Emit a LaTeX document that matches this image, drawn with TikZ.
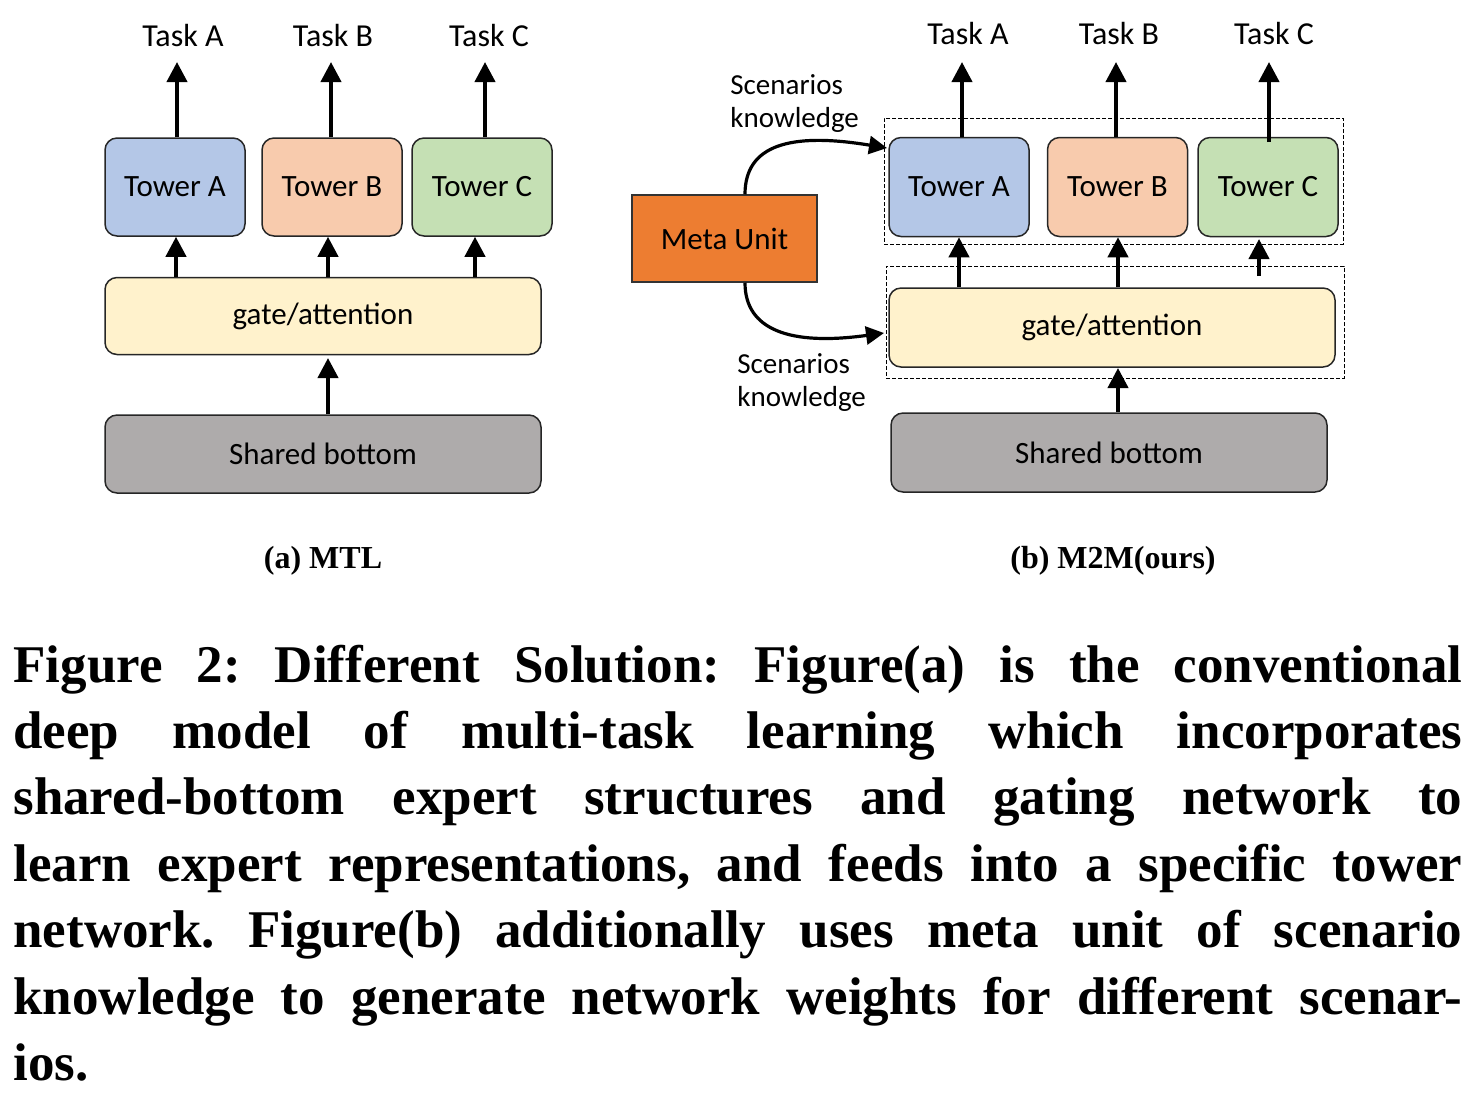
\documentclass[tikz,border=0pt]{standalone}
\usepackage{fontspec}
\setmainfont{Liberation Serif}
\newfontfamily\calfont{Carlito}
\usetikzlibrary{arrows.meta}
\definecolor{twa}{HTML}{B4C7E7}
\definecolor{twb}{HTML}{F8CBAD}
\definecolor{twc}{HTML}{C5E0B4}
\definecolor{gatec}{HTML}{FFF2CC}
\definecolor{shc}{HTML}{AEABAB}
\definecolor{metac}{HTML}{ED7D31}
\begin{document}
\begin{tikzpicture}[x=0.5pt,y=-0.5pt,
  box/.style={draw=black!85, line width=0.75pt, rounded corners=6pt, inner sep=0pt,
    font=\calfont\fontsize{15.5}{18}\selectfont},
  tower/.style={box, minimum width=70pt, minimum height=49pt},
  wide/.style={box, minimum width=218pt, minimum height=39pt},
  arr/.style={line width=2pt, -{Triangle[width=10pt,length=10pt]}},
  carr/.style={line width=1.6pt, -{Triangle[width=9pt,length=9pt]}},
  dbox/.style={draw, line width=0.5pt, dash pattern=on 2pt off 1pt, inner sep=0pt},
  lbl/.style={inner sep=0pt, font=\calfont\fontsize{16}{16.5}\selectfont},
  slbl/.style={inner sep=0pt, font=\calfont\fontsize{14.5}{16.7}\selectfont},
  sub/.style={inner sep=0pt, font=\bfseries\fontsize{16}{19}\selectfont}]
\useasboundingbox (0,0) rectangle (1482,1105);

% ---------- (a) MTL ----------
\node[tower, fill=twa] (TA) at (175,187) {Tower A};
\node[tower, fill=twb] (TB) at (332,187) {Tower B};
\node[tower, fill=twc] (TC) at (482,187) {Tower C};
\node[wide, fill=gatec, minimum height=38.5pt] (GL) at (323,316) {gate/attention};
\node[wide, fill=shc] (SL) at (323,454) {Shared bottom};
\node[lbl, anchor=base] (tkA) at (183,46) {Task A};
\node[lbl, anchor=base] (tkB) at (333,46) {Task B};
\node[lbl, anchor=base] (tkC) at (489,46) {Task C};
\draw[arr] (TA.north -| 177,0) -- (177,62);
\draw[arr] (TB.north -| 331,0) -- (331,62);
\draw[arr] (TC.north -| 485,0) -- (485,62);
\draw[arr] (GL.north -| 176,0) -- (TA.south -| 176,0);
\draw[arr] (GL.north -| 328,0) -- (TB.south -| 328,0);
\draw[arr] (GL.north -| 475,0) -- (TC.south -| 475,0);
\draw[arr] (SL.north -| 328,0) -- (328,358);
\node[sub, anchor=base] (capA) at (323,568) {(a) MTL};

% ---------- (b) M2M ----------
\node[dbox, minimum width=229.5pt, minimum height=63pt] (DB1) at (1113.5,181) {};
\node[dbox, minimum width=229pt, minimum height=56pt] (DB2) at (1115,322) {};
\node[tower, fill=twa, minimum height=49.5pt] (RA) at (959,187) {Tower A};
\node[tower, fill=twb, minimum height=49.5pt] (RB) at (1117.5,187) {Tower B};
\node[tower, fill=twc, minimum height=49.5pt] (RC) at (1268,187) {Tower C};
\node[box, fill=gatec, minimum width=223pt, minimum height=39.5pt] (GR) at (1112,327.5) {gate/attention};
\node[wide, fill=shc, minimum height=39.5pt] (SR) at (1109,452.5) {Shared bottom};
\node[lbl, anchor=base] (rkA) at (968,44) {Task A};
\node[lbl, anchor=base] (rkB) at (1119,44) {Task B};
\node[lbl, anchor=base] (rkC) at (1274,44) {Task C};
\draw[arr] (RA.north -| 962,0) -- (962,62);
\draw[arr] (RB.north -| 1116,0) -- (1116,62);
\draw[arr] (1269,142) -- (1269,62);
\draw[arr] (GR.north -| 959,0) -- (RA.south -| 959,0);
\draw[arr] (GR.north -| 1118,0) -- (RB.south -| 1118,0);
\draw[arr] (1259,276) -- (1259,239);
\draw[arr] (SR.north -| 1118,0) -- (1118,368);

\node[draw=black!80, line width=0.75pt, fill=metac, inner sep=0pt,
  minimum width=92.5pt, minimum height=43.5pt,
  font=\calfont\fontsize{15.5}{18}\selectfont] (MU) at (724.5,238.5) {Meta Unit};
\draw[carr] (MU.north -| 745,0) .. controls (745,145) and (790,132) .. (887,148);
\draw[carr] (MU.south -| 745,0) .. controls (745,330) and (790,346) .. (884,333);

\node[slbl, anchor=base west, text width=80pt, align=left] (sk1) at (730,94) {Scenarios\\knowledge};
\node[slbl, anchor=base west, text width=80pt, align=left] (sk2) at (737,373) {Scenarios\\knowledge};
\node[sub, anchor=base] (capB) at (1113,568) {(b) M2M(ours)};

% ---------- caption ----------
\node[anchor=base west, inner sep=0pt, text width=724.5pt, align=justify,
  font=\bfseries\fontsize{26.5}{33.2}\selectfont] (cap) at (13,682)
  {\frenchspacing\tolerance=10000\hyphenpenalty=10000\pretolerance=-1
   Figure 2: Different Solution: Figure(a) is the conventional\linebreak
   deep model of multi-task learning which incorporates\linebreak
   shared-bottom expert structures and gating network to\linebreak
   learn expert representations, and feeds into a specific tower\linebreak
   network. Figure(b) additionally uses meta unit of scenario\linebreak
   knowledge to generate network weights for different scenar-\linebreak
   ios.};
\end{tikzpicture}
\end{document}
